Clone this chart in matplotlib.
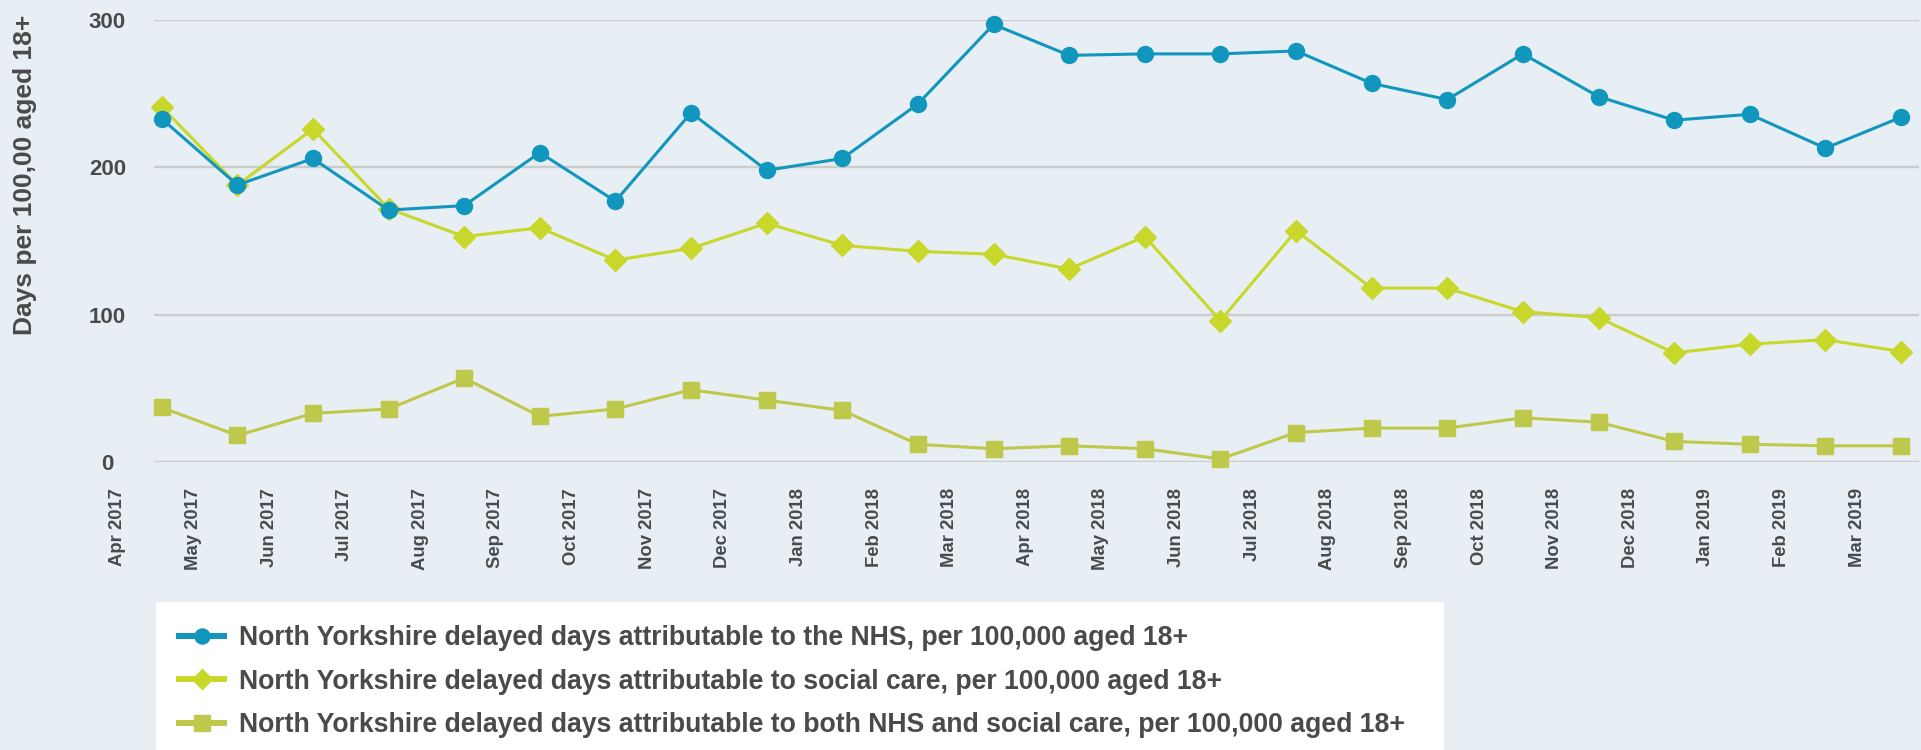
import matplotlib
matplotlib.use("Agg")
import matplotlib.pyplot as plt
from matplotlib.lines import Line2D
from matplotlib.transforms import ScaledTranslation

months = ["Apr 2017", "May 2017", "Jun 2017", "Jul 2017", "Aug 2017", "Sep 2017",
          "Oct 2017", "Nov 2017", "Dec 2017", "Jan 2018", "Feb 2018", "Mar 2018",
          "Apr 2018", "May 2018", "Jun 2018", "Jul 2018", "Aug 2018", "Sep 2018",
          "Oct 2018", "Nov 2018", "Dec 2018", "Jan 2019", "Feb 2019", "Mar 2019"]

nhs = [233, 188, 206, 171, 174, 210, 177, 237, 198, 206, 243, 297,
       276, 277, 277, 279, 257, 246, 277, 248, 232, 236, 213, 234]
social = [241, 188, 226, 172, 153, 159, 137, 145, 162, 147, 143, 141,
          131, 153, 96, 157, 118, 118, 102, 98, 74, 80, 83, 75]
both = [37, 18, 33, 36, 57, 31, 36, 49, 42, 35, 12, 9,
        11, 9, 2, 20, 23, 23, 30, 27, 14, 12, 11, 11]

labels = ["North Yorkshire delayed days attributable to the NHS, per 100,000 aged 18+",
          "North Yorkshire delayed days attributable to social care, per 100,000 aged 18+",
          "North Yorkshire delayed days attributable to both NHS and social care, per 100,000 aged 18+"]
yticks = [0, 100, 200, 300]

BG = "#e7eef4"
C_NHS = "#1196be"
C_SOC = "#c8d82a"
C_BOTH = "#bec84b"
TXT = "#4a4a4a"
FONT = "Liberation Sans"

plt.rcParams["font.family"] = [FONT, "DejaVu Sans"]

W, H = 1921, 750
fig = plt.figure(figsize=(W / 100, H / 100), dpi=100, facecolor=BG)
ax = fig.add_axes([154 / W, 1 - 462 / H, (1919 - 154) / W, (462 - 20) / H])
ax.set_facecolor(BG)

x = list(range(len(months)))
ax.set_xlim(-0.102, 23.238)
ax.set_ylim(0, 300)

ax.plot(x, both, color=C_BOTH, lw=2.2, marker="s", ms=11.3, clip_on=False, zorder=3)
ax.plot(x, social, color=C_SOC, lw=2.2, marker="D", ms=10.7, clip_on=False, zorder=4)
ax.plot(x, nhs, color=C_NHS, lw=2.2, marker="o", ms=11.5, clip_on=False, zorder=5)

for s in ax.spines.values():
    s.set_visible(False)
ax.set_yticks(yticks)
ax.set_yticklabels([str(v) for v in yticks])
ax.yaxis.grid(True, color="#cccccc", lw=1.7)
ax.set_axisbelow(True)
ax.set_xticks([])
ax.tick_params(axis="y", length=0, pad=33.5, labelsize=16, labelcolor=TXT)
for t in ax.get_yticklabels():
    t.set_horizontalalignment("center")
    t.set_fontweight("bold")

trans = ax.get_xaxis_transform() + ScaledTranslation(0, -26 / 100, fig.dpi_scale_trans)
for i, m in enumerate(months):
    ax.text(i - 0.58, 0, m, transform=trans, rotation=90, ha="center", va="top",
            fontsize=13.3, fontweight="bold", color=TXT)

fig.text(25 / W, 1 - 175 / H, "Days per 100,00 aged 18+", rotation=90,
         ha="center", va="center", fontsize=19, fontweight="bold", color=TXT)

handles = [Line2D([], [], color=C_NHS, lw=4.3, marker="o", ms=10.8),
           Line2D([], [], color=C_SOC, lw=4.3, marker="D", ms=10.5),
           Line2D([], [], color=C_BOTH, lw=4.3, marker="s", ms=11.3)]
leg = fig.legend(handles, labels, loc="upper left",
                 bbox_to_anchor=(156 / W, 1 - 602 / H, (1444 - 156) / W, 0.0),
                 mode="expand", frameon=True, fancybox=False, facecolor="white",
                 edgecolor="white", framealpha=1,
                 prop={"family": FONT, "weight": "bold", "size": 19.2},
                 handlelength=1.69, handletextpad=0.56, labelspacing=0.65,
                 borderpad=0.87, borderaxespad=0)
for t in leg.get_texts():
    t.set_color(TXT)
leg.get_frame().set_linewidth(0)

fig.savefig("out.png", dpi=100, facecolor=BG)
